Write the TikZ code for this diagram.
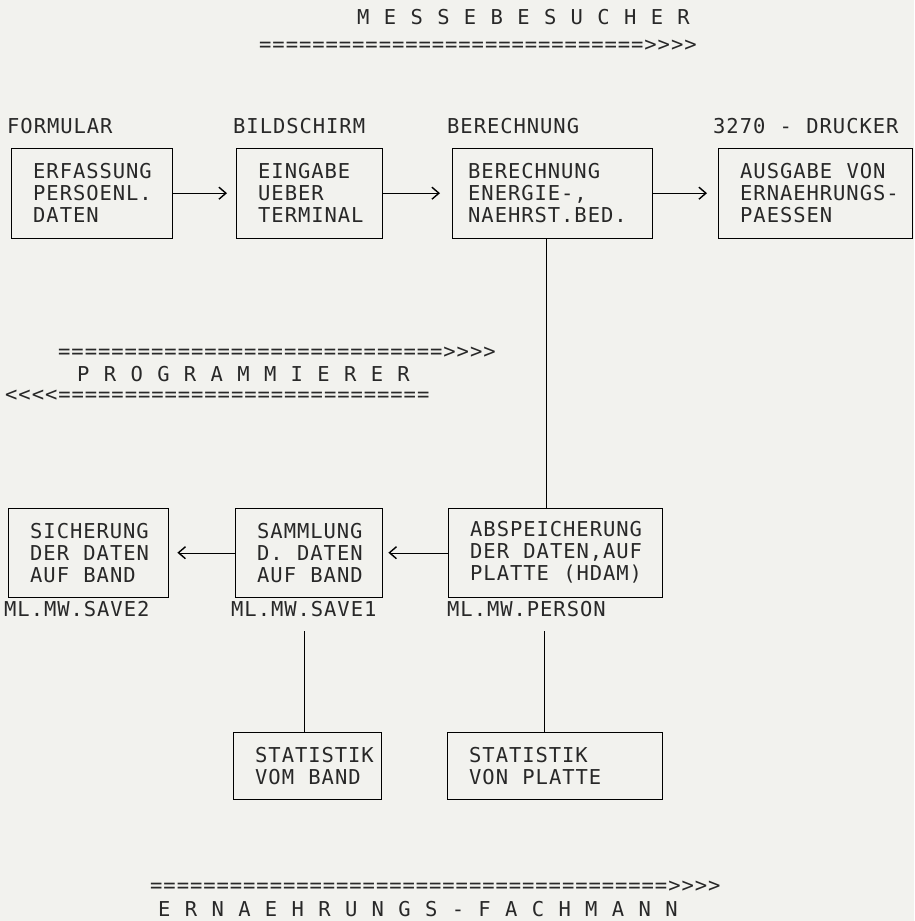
\documentclass[tikz,border=0pt]{standalone}
\usepackage{fontspec}
\newfontfamily\prfont[LetterSpace=4.6, WordSpace={1.08,0,0}]{DejaVu Sans Mono}
\newcommand\prtxt{\prfont\fontsize{20.5pt}{22pt}\selectfont\hyphenpenalty=10000 \exhyphenpenalty=10000 }
\usetikzlibrary{arrows.meta,positioning}
\definecolor{paper}{RGB}{242,242,238}
\definecolor{ink}{RGB}{40,40,40}
\tikzset{
    x=1pt,y=-1pt,line width=1.1pt,color=ink,
    proc/.style ={draw, anchor=north west, align=left, font=\prtxt, inner xsep=22pt, inner ysep=0pt, minimum height=90pt,
                  execute at begin node={\spaceskip=0pt\xspaceskip=0pt}},
    fname/.style = {font=\prtxt, inner sep=0pt},
    banner/.style = {font=\prtxt, inner sep=0pt, anchor=west},
    flow/.style = {-{Straight Barb[length=7pt,width=12pt,line width=1.4pt]}, shorten >=9pt}
}

\begin{document}
\begin{tikzpicture}
    \fill[paper] (0,0) rectangle (914,921);

    % Row 1
    \node[proc, text width=117pt] (erf) at (11,148) {ERFASSUNG\\PERSOENL.\\DATEN};
    \node[proc, text width=102pt] (ein) at (236,148) {EINGABE\\UEBER\\TERMINAL};
    \node[proc, text width=168pt, inner xsep=16pt] (ber) at (452,148) {BERECHNUNG\\ENERGIE-,\\NAEHRST.BED.};
    \node[proc, text width=150pt] (aus) at (718,148) {AUSGABE~VON\\ERNAEHRUNGS-\\PAESSEN};

    % Headers
    \node[fname] (formular) [above=14pt of erf.north west, anchor=south west, xshift=-4pt] {FORMULAR};
    \node[fname] (bildsch) [above=14pt of ein.north west, anchor=south west, xshift=-3pt] {BILDSCHIRM};
    \node[fname] (berech) [above=14pt of ber.north west, anchor=south west, xshift=-5pt] {BERECHNUNG};
    \node[fname] (drucker) [above=14pt of aus.north west, anchor=south west, xshift=-5pt] {3270 - DRUCKER};

    % Row 2
    \node[proc, text width=116pt, minimum height=89pt] (sich) at (8,508) {SICHERUNG\\DER~DATEN\\AUF~BAND};
    \node[proc, text width=103pt, minimum height=89pt] (samm) at (235,508) {SAMMLUNG\\D.~DATEN\\AUF~BAND};
    \node[proc, text width=170pt, minimum height=89pt] (absp) at (448,508) {ABSPEICHERUNG\\DER~DATEN,AUF\\PLATTE~(HDAM)};

    % File names
    \node[fname] (save2) [below=4pt of sich.south west, anchor=north west, xshift=-4pt] {ML.MW.SAVE2};
    \node[fname] (save1) [below=4pt of samm.south west, anchor=north west, xshift=-4pt] {ML.MW.SAVE1};
    \node[fname] (pers) [below=4pt of absp.south west, anchor=north west, xshift=-1pt] {ML.MW.PERSON};

    % Row 3
    \node[proc, text width=104pt, minimum height=67pt] (stband) at (233,732) {STATISTIK\\VOM~BAND};
    \node[proc, text width=171pt, minimum height=67pt] (stplat) at (447,732) {STATISTIK\\VON~PLATTE};

    % Banners
    \node[banner] (mtitle) at (357,17) {M E S S E B E S U C H E R};
    \node[banner] (mline) at (259,46) {=============================>>>>};
    \node[banner] (pline) at (58,353) {=============================>>>>};
    \node[banner] (ptitle) at (77,374) {P R O G R A M M I E R E R};
    \node[banner] (pback) at (5,396) {<<<<============================};
    \node[banner] (eline) at (150,887) {=======================================>>>>};
    \node[banner] (etitle) at (158,909) {E R N A E H R U N G S - F A C H M A N N};

    % Flow edges
    \path (erf) edge[flow] (ein);
    \path (ein) edge[flow, shorten >=12pt] (ber);
    \path (ber) edge[flow, shorten >=11pt] (aus);
    \path (samm) edge[flow] (sich);
    \path (absp) edge[flow, shorten >=6pt] (samm);

    % Plain lines
    \draw ([xshift=-6pt]ber.south) -- ([xshift=-6pt]ber.south |- absp.north);
    \draw ([yshift=-14pt]save1.south) -- (save1.south |- stband.north);
    \draw ([xshift=-11pt]stplat.north) -- ([xshift=-11pt,yshift=-14pt]stplat.north |- pers.south);
\end{tikzpicture}
\end{document}
